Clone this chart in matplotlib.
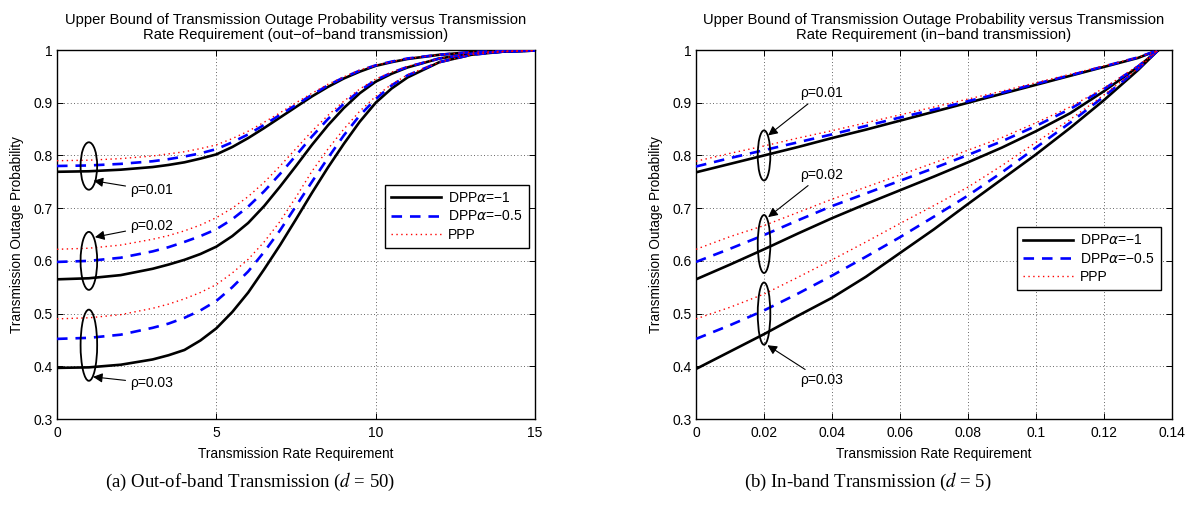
import matplotlib
matplotlib.use('Agg')
import matplotlib.pyplot as plt
import matplotlib.patches as mpatches
from matplotlib import font_manager

# fonts: narrow face for tick labels if present
names = set(f.name for f in font_manager.fontManager.ttflist)
NARROW = 'Liberation Sans Narrow' if 'Liberation Sans Narrow' in names else 'Liberation Sans'
plt.rcParams['font.family'] = ['Liberation Sans', 'DejaVu Sans']
plt.rcParams['mathtext.fontset'] = 'dejavusans'

rho_labels = ['ρ=0.01', 'ρ=0.02', 'ρ=0.03']

# out-of-band transmission (d = 50)
oob_rate = [0, 1, 2, 3, 3.5, 4, 4.5, 5, 5.5, 6, 6.5, 7, 7.5, 8, 8.5, 9, 9.5, 10, 10.5, 11, 12, 13, 14, 15]
oob_dpp_a1 = [
    [0.769, 0.770, 0.773, 0.778, 0.782, 0.787, 0.794, 0.802, 0.816, 0.833, 0.852, 0.872, 0.892, 0.912, 0.930, 0.946, 0.959, 0.970, 0.977, 0.983, 0.991, 0.996, 0.998, 0.999],
    [0.565, 0.567, 0.573, 0.585, 0.593, 0.602, 0.613, 0.627, 0.647, 0.672, 0.704, 0.741, 0.780, 0.820, 0.857, 0.890, 0.918, 0.940, 0.955, 0.967, 0.984, 0.993, 0.997, 0.999],
    [0.397, 0.398, 0.403, 0.413, 0.421, 0.431, 0.449, 0.472, 0.503, 0.540, 0.584, 0.630, 0.679, 0.729, 0.777, 0.822, 0.864, 0.900, 0.927, 0.948, 0.977, 0.991, 0.997, 0.999],
]
oob_dpp_a05 = [
    [0.780, 0.781, 0.784, 0.789, 0.793, 0.798, 0.804, 0.812, 0.825, 0.840, 0.858, 0.877, 0.896, 0.915, 0.933, 0.948, 0.961, 0.971, 0.978, 0.984, 0.991, 0.996, 0.998, 0.999],
    [0.598, 0.600, 0.606, 0.618, 0.626, 0.636, 0.647, 0.660, 0.679, 0.703, 0.732, 0.765, 0.800, 0.836, 0.869, 0.898, 0.923, 0.943, 0.957, 0.968, 0.984, 0.993, 0.997, 0.999],
    [0.452, 0.454, 0.460, 0.473, 0.481, 0.492, 0.506, 0.524, 0.550, 0.580, 0.617, 0.658, 0.704, 0.750, 0.795, 0.838, 0.876, 0.907, 0.933, 0.952, 0.977, 0.991, 0.997, 0.999],
]
oob_ppp = [
    [0.790, 0.791, 0.794, 0.799, 0.803, 0.807, 0.813, 0.820, 0.832, 0.846, 0.863, 0.881, 0.900, 0.918, 0.935, 0.949, 0.962, 0.971, 0.978, 0.984, 0.991, 0.996, 0.998, 0.999],
    [0.622, 0.624, 0.630, 0.641, 0.648, 0.657, 0.668, 0.682, 0.700, 0.722, 0.749, 0.780, 0.813, 0.846, 0.876, 0.903, 0.926, 0.945, 0.958, 0.969, 0.984, 0.993, 0.997, 0.999],
    [0.490, 0.492, 0.498, 0.510, 0.518, 0.528, 0.540, 0.555, 0.577, 0.603, 0.636, 0.675, 0.721, 0.770, 0.812, 0.850, 0.884, 0.912, 0.935, 0.953, 0.977, 0.991, 0.997, 0.999],
]

# in-band transmission (d = 5)
ib_rate = [0, 0.01, 0.02, 0.03, 0.04, 0.05, 0.06, 0.07, 0.08, 0.09, 0.10, 0.11, 0.12, 0.13, 0.136]
ib_dpp_a1 = [
    [0.768, 0.784, 0.800, 0.816, 0.833, 0.849, 0.866, 0.883, 0.900, 0.917, 0.934, 0.951, 0.968, 0.985, 1.0],
    [0.565, 0.593, 0.622, 0.652, 0.681, 0.708, 0.734, 0.760, 0.787, 0.815, 0.846, 0.880, 0.922, 0.968, 1.0],
    [0.395, 0.428, 0.461, 0.496, 0.530, 0.570, 0.615, 0.660, 0.708, 0.755, 0.802, 0.852, 0.905, 0.962, 1.0],
]
ib_dpp_a05 = [
    [0.779, 0.795, 0.810, 0.825, 0.840, 0.856, 0.872, 0.887, 0.903, 0.919, 0.936, 0.952, 0.969, 0.986, 1.0],
    [0.598, 0.623, 0.649, 0.677, 0.704, 0.728, 0.752, 0.776, 0.801, 0.827, 0.856, 0.888, 0.926, 0.969, 1.0],
    [0.452, 0.478, 0.506, 0.538, 0.572, 0.608, 0.645, 0.684, 0.724, 0.768, 0.815, 0.862, 0.912, 0.964, 1.0],
]
ib_ppp = [
    [0.789, 0.804, 0.818, 0.833, 0.847, 0.862, 0.877, 0.892, 0.907, 0.922, 0.938, 0.954, 0.970, 0.986, 1.0],
    [0.622, 0.646, 0.667, 0.692, 0.717, 0.740, 0.763, 0.786, 0.810, 0.834, 0.862, 0.892, 0.928, 0.970, 1.0],
    [0.490, 0.512, 0.537, 0.569, 0.602, 0.636, 0.671, 0.705, 0.740, 0.781, 0.825, 0.868, 0.915, 0.965, 1.0],
]

y_ticks = [0.3, 0.4, 0.5, 0.6, 0.7, 0.8, 0.9, 1.0]
y_ticklabels = ['0.3', '0.4', '0.5', '0.6', '0.7', '0.8', '0.9', '1']
oob_xticks = [0, 5, 10, 15]
ib_xticks = [0, 0.02, 0.04, 0.06, 0.08, 0.1, 0.12, 0.14]
ib_xticklabels = ['0', '0.02', '0.04', '0.06', '0.08', '0.1', '0.12', '0.14']

fig = plt.figure(figsize=(11.9, 5.12), dpi=100)
ax1 = fig.add_axes([0.0479, 0.1816, 0.4017, 0.7207])
ax2 = fig.add_axes([0.5849, 0.1816, 0.4000, 0.7207])


def draw_curves(ax, x, dpp1, dpp05, ppp):
    for i in range(3):
        ax.plot(x, dpp1[i], color='k', lw=1.9, label='DPP$\\alpha$=\u22121' if i == 0 else None, zorder=3)
        ax.plot(x, dpp05[i], color='b', lw=1.9, ls=(0, (4, 3)), label='DPP$\\alpha$=\u22120.5' if i == 0 else None, zorder=4)
        ax.plot(x, ppp[i], color='r', lw=1.0, ls=(0, (1, 2.5)), label='PPP' if i == 0 else None, zorder=5)


def style_axes(ax, title):
    ax.set_ylim(0.3, 1.0)
    ax.set_yticks(y_ticks)
    ax.set_yticklabels(y_ticklabels)
    ax.grid(True, color='k', ls=(0, (1, 3)), lw=0.6, alpha=0.8)
    ax.tick_params(direction='in', top=True, right=True, length=4, width=0.7, labelsize=10, pad=3)
    ax.tick_params(axis='x', pad=5)
    for lab in ax.get_xticklabels() + ax.get_yticklabels():
        lab.set_fontfamily(NARROW)
    for sp in ax.spines.values():
        sp.set_linewidth(1.0)
    ax.set_title(title, fontsize=10.6, pad=8, linespacing=1.1)
    ax.set_xlabel('Transmission Rate Requirement', fontsize=9.8, family=NARROW, labelpad=5)
    ax.set_ylabel('Transmission Outage Probability', fontsize=9.8, labelpad=7)


def add_legend(ax, anchor):
    leg = ax.legend(loc='upper left', bbox_to_anchor=anchor, borderaxespad=0, fontsize=10,
                    fancybox=False, framealpha=1, edgecolor='k', handlelength=3.6,
                    handletextpad=0.5, borderpad=0.45, labelspacing=0.3)
    leg.get_frame().set_linewidth(1.0)


# left panel
draw_curves(ax1, oob_rate, oob_dpp_a1, oob_dpp_a05, oob_ppp)
ax1.set_xlim(0, 15)
ax1.set_xticks(oob_xticks)
style_axes(ax1, 'Upper Bound of Transmission Outage Probability versus Transmission\n'
                'Rate Requirement (out\u2212of\u2212band transmission)')
add_legend(ax1, (0.686, 0.634))

for cy, h in [(0.78, 0.09), (0.60, 0.11), (0.44, 0.135)]:
    ax1.add_patch(mpatches.Ellipse((1.0, cy), 0.52, h, fill=False, ec='k', lw=1.3, zorder=6))
for lab, txt_xy, tip in zip(rho_labels, [(2.28, 0.734), (2.28, 0.666), (2.28, 0.368)],
                            [(1.15, 0.752), (1.19, 0.645), (1.13, 0.380)]):
    ax1.annotate(lab, xy=tip, xytext=txt_xy, ha='left', va='center', fontsize=10, zorder=7,
                 arrowprops=dict(arrowstyle='-|>', color='k', lw=0.8, mutation_scale=14,
                                 shrinkA=1, shrinkB=0))

# right panel
draw_curves(ax2, ib_rate, ib_dpp_a1, ib_dpp_a05, ib_ppp)
ax2.set_xlim(0, 0.14)
ax2.set_xticks(ib_xticks)
ax2.set_xticklabels(ib_xticklabels)
style_axes(ax2, 'Upper Bound of Transmission Outage Probability versus Transmission\n'
                'Rate Requirement (in\u2212band transmission)')
add_legend(ax2, (0.674, 0.520))

for cy, h in [(0.80, 0.095), (0.632, 0.11), (0.50, 0.118)]:
    ax2.add_patch(mpatches.Ellipse((0.02, cy), 0.0037, h, fill=False, ec='k', lw=1.3, zorder=6))
for lab, txt_xy, tip in zip(rho_labels, [(0.0306, 0.918), (0.0306, 0.763), (0.0306, 0.374)],
                            [(0.0212, 0.838), (0.0212, 0.683), (0.0210, 0.440)]):
    ax2.annotate(lab, xy=tip, xytext=txt_xy, ha='left', va='center', fontsize=10, zorder=7,
                 arrowprops=dict(arrowstyle='-|>', color='k', lw=0.8, mutation_scale=14,
                                 shrinkA=1, shrinkB=0))

# sub-figure captions
cap_font = dict(fontsize=13.5, family=['Liberation Serif', 'DejaVu Serif'], ha='center', va='center')
plt.rcParams['mathtext.fontset'] = 'stix'
fig.text(0.210, 0.058, '(a) Out-of-band Transmission ($d$ = 50)', **cap_font)
fig.text(0.729, 0.058, '(b) In-band Transmission ($d$ = 5)', **cap_font)

fig.savefig('out.png', dpi=100)
